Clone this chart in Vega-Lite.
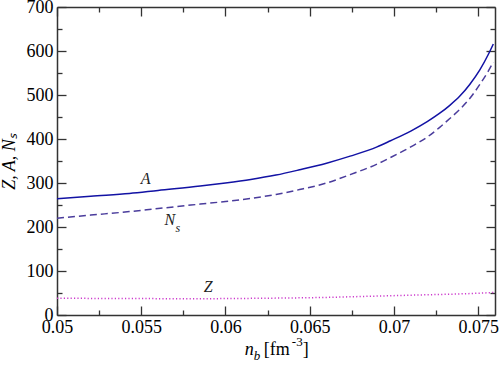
{
  "$schema": "https://vega.github.io/schema/vega-lite/v6.json",
  "autosize": "none",
  "width": 438,
  "height": 308,
  "padding": {"left": 57, "top": 7, "right": 5, "bottom": 50},
  "background": "white",
  "config": {
    "view": {"stroke": null},
    "font": "Liberation Serif",
    "style": {"guide-label": {"font": "Liberation Serif", "fontSize": 18, "fill": "black"}, "guide-title": {"font": "Liberation Serif"}},
    "axis": {
      "grid": false,
      "domainColor": "#333333",
      "domainWidth": 1.5,
      "tickColor": "#333333",
      "tickWidth": 1.3,
      "labelFont": "Liberation Serif",
      "labelFontSize": 18,
      "labelColor": "black",
      "labelFlush": false,
      "labelOverlap": false,
      "titleFont": "Liberation Serif",
      "titleFontWeight": "normal",
      "titleColor": "black"
    }
  },
  "datasets": {
    "curves": [
      {"nb": 0.0500, "v": 264, "s": "A"},
      {"nb": 0.0520, "v": 270, "s": "A"},
      {"nb": 0.0543, "v": 276, "s": "A"},
      {"nb": 0.0560, "v": 283, "s": "A"},
      {"nb": 0.0585, "v": 293, "s": "A"},
      {"nb": 0.0600, "v": 300, "s": "A"},
      {"nb": 0.0615, "v": 308, "s": "A"},
      {"nb": 0.0630, "v": 318, "s": "A"},
      {"nb": 0.0644, "v": 330, "s": "A"},
      {"nb": 0.0660, "v": 345, "s": "A"},
      {"nb": 0.0674, "v": 361, "s": "A"},
      {"nb": 0.0690, "v": 382, "s": "A"},
      {"nb": 0.0698, "v": 396, "s": "A"},
      {"nb": 0.0710, "v": 418, "s": "A"},
      {"nb": 0.0720, "v": 440, "s": "A"},
      {"nb": 0.0727, "v": 458, "s": "A"},
      {"nb": 0.0733, "v": 476, "s": "A"},
      {"nb": 0.0739, "v": 497, "s": "A"},
      {"nb": 0.0745, "v": 524, "s": "A"},
      {"nb": 0.0751, "v": 557, "s": "A"},
      {"nb": 0.0756, "v": 592, "s": "A"},
      {"nb": 0.0759, "v": 616, "s": "A"},
      {"nb": 0.0500, "v": 220, "s": "Ns"},
      {"nb": 0.0520, "v": 227, "s": "Ns"},
      {"nb": 0.0543, "v": 235, "s": "Ns"},
      {"nb": 0.0560, "v": 242, "s": "Ns"},
      {"nb": 0.0585, "v": 252, "s": "Ns"},
      {"nb": 0.0600, "v": 258, "s": "Ns"},
      {"nb": 0.0615, "v": 265, "s": "Ns"},
      {"nb": 0.0630, "v": 274, "s": "Ns"},
      {"nb": 0.0644, "v": 285, "s": "Ns"},
      {"nb": 0.0660, "v": 300, "s": "Ns"},
      {"nb": 0.0674, "v": 319, "s": "Ns"},
      {"nb": 0.0690, "v": 343, "s": "Ns"},
      {"nb": 0.0698, "v": 358, "s": "Ns"},
      {"nb": 0.0710, "v": 382, "s": "Ns"},
      {"nb": 0.0720, "v": 405, "s": "Ns"},
      {"nb": 0.0727, "v": 426, "s": "Ns"},
      {"nb": 0.0733, "v": 446, "s": "Ns"},
      {"nb": 0.0739, "v": 467, "s": "Ns"},
      {"nb": 0.0745, "v": 492, "s": "Ns"},
      {"nb": 0.0751, "v": 524, "s": "Ns"},
      {"nb": 0.0756, "v": 554, "s": "Ns"},
      {"nb": 0.0759, "v": 575, "s": "Ns"},
      {"nb": 0.0500, "v": 38, "s": "Z"},
      {"nb": 0.0540, "v": 37.5, "s": "Z"},
      {"nb": 0.0580, "v": 37, "s": "Z"},
      {"nb": 0.0620, "v": 38, "s": "Z"},
      {"nb": 0.0660, "v": 40, "s": "Z"},
      {"nb": 0.0680, "v": 42, "s": "Z"},
      {"nb": 0.0700, "v": 44, "s": "Z"},
      {"nb": 0.0720, "v": 46, "s": "Z"},
      {"nb": 0.0740, "v": 48, "s": "Z"},
      {"nb": 0.0759, "v": 51, "s": "Z"}
    ],
    "labels": [
      {"nb": 0.05526, "v": 310, "t": "A"},
      {"nb": 0.0567, "v": 216, "t": "N"},
      {"nb": 0.05898, "v": 63, "t": "Z"}
    ],
    "one": [{"k": 1}]
  },
  "resolve": {"axis": {"x": "independent", "y": "independent"}},
  "layer": [
    {
      "data": {"name": "curves"},
      "transform": [{"filter": "datum.s === 'A'"}],
      "mark": {"type": "line", "color": "#1212a4", "strokeWidth": 1.5, "interpolate": "monotone"},
      "encoding": {
        "x": {"field": "nb", "type": "quantitative",
          "scale": {"domain": [0.05, 0.076], "nice": false, "zero": false},
          "axis": {"orient": "bottom", "values": [0.05, 0.055, 0.06, 0.065, 0.07, 0.075], "format": "~g", "tickSize": -9, "labelPadding": 12, "labelFont": "Liberation Serif", "labelFontSize": 18, "title": null}},
        "y": {"field": "v", "type": "quantitative",
          "scale": {"domain": [0, 700], "nice": false},
          "axis": {"orient": "left", "values": [0, 100, 200, 300, 400, 500, 600, 700], "tickSize": -9, "labelPadding": 13, "labelFont": "Liberation Serif", "labelFontSize": 18, "title": "Z, A, Nₛ", "titleFont": "Liberation Serif", "titleFontSize": 18, "titleFontStyle": "italic", "titlePadding": 8}}
      }
    },
    {
      "data": {"name": "curves"},
      "transform": [{"filter": "datum.s === 'Ns'"}],
      "mark": {"type": "line", "color": "#4a3c9c", "strokeWidth": 1.5, "strokeDash": [7, 4], "interpolate": "monotone"},
      "encoding": {
        "x": {"field": "nb", "type": "quantitative",
          "axis": {"orient": "top", "values": [0.05, 0.055, 0.06, 0.065, 0.07, 0.075], "tickSize": -9, "labels": false, "title": null}},
        "y": {"field": "v", "type": "quantitative",
          "axis": {"orient": "right", "values": [0, 100, 200, 300, 400, 500, 600, 700], "tickSize": -9, "labels": false, "title": null}}
      }
    },
    {
      "data": {"name": "curves"},
      "transform": [{"filter": "datum.s === 'Z'"}],
      "mark": {"type": "line", "color": "#cc3acc", "strokeWidth": 1.5, "strokeDash": [1.2, 2.2], "interpolate": "monotone"},
      "encoding": {
        "x": {"field": "nb", "type": "quantitative",
          "axis": {"orient": "bottom", "values": [0.0525, 0.0575, 0.0625, 0.0675, 0.0725], "tickSize": -5, "labels": false, "domain": false, "title": null}},
        "y": {"field": "v", "type": "quantitative",
          "axis": {"orient": "left", "values": [50, 150, 250, 350, 450, 550, 650], "tickSize": -5, "labels": false, "domain": false, "title": null}}
      }
    },
    {
      "data": {"name": "labels"},
      "mark": {"type": "text", "font": "Liberation Serif", "fontStyle": "italic", "fontSize": 16, "baseline": "middle", "align": "center", "color": "#222222"},
      "encoding": {
        "x": {"field": "nb", "type": "quantitative",
          "axis": {"orient": "top", "values": [0.0525, 0.0575, 0.0625, 0.0675, 0.0725], "tickSize": -5, "labels": false, "domain": false, "title": null}},
        "y": {"field": "v", "type": "quantitative",
          "axis": {"orient": "right", "values": [50, 150, 250, 350, 450, 550, 650], "tickSize": -5, "labels": false, "domain": false, "title": null}},
        "text": {"field": "t"}
      }
    },
    {
      "data": {"name": "one"},
      "mark": {"type": "text", "font": "Liberation Serif", "fontStyle": "italic", "fontSize": 12, "baseline": "middle", "align": "center", "color": "#222222", "dx": 8, "dy": 8},
      "encoding": {
        "x": {"datum": 0.0567, "type": "quantitative", "axis": null},
        "y": {"datum": 216, "type": "quantitative", "axis": null},
        "text": {"value": "s"}
      }
    },
    {
      "data": {"name": "one"},
      "mark": {"type": "text", "font": "Liberation Serif", "fontStyle": "italic", "fontSize": 18, "baseline": "alphabetic", "align": "left", "color": "black", "dx": 0},
      "encoding": {
        "x": {"datum": 0.06115, "type": "quantitative", "axis": null},
        "y": {"datum": -91, "type": "quantitative", "axis": null},
        "text": {"value": "n"}
      }
    },
    {
      "data": {"name": "one"},
      "mark": {"type": "text", "font": "Liberation Serif", "fontStyle": "italic", "fontSize": 13, "baseline": "alphabetic", "align": "left", "color": "black", "dx": 9, "dy": 5},
      "encoding": {
        "x": {"datum": 0.06115, "type": "quantitative", "axis": null},
        "y": {"datum": -91, "type": "quantitative", "axis": null},
        "text": {"value": "b"}
      }
    },
    {
      "data": {"name": "one"},
      "mark": {"type": "text", "font": "Liberation Serif", "fontSize": 18, "baseline": "alphabetic", "align": "left", "color": "black", "dx": 19},
      "encoding": {
        "x": {"datum": 0.06115, "type": "quantitative", "axis": null},
        "y": {"datum": -91, "type": "quantitative", "axis": null},
        "text": {"value": "[fm"}
      }
    },
    {
      "data": {"name": "one"},
      "mark": {"type": "text", "font": "Liberation Serif", "fontSize": 13, "baseline": "alphabetic", "align": "left", "color": "black", "dx": 47, "dy": -9},
      "encoding": {
        "x": {"datum": 0.06115, "type": "quantitative", "axis": null},
        "y": {"datum": -91, "type": "quantitative", "axis": null},
        "text": {"value": "-3"}
      }
    },
    {
      "data": {"name": "one"},
      "mark": {"type": "text", "font": "Liberation Serif", "fontSize": 18, "baseline": "alphabetic", "align": "left", "color": "black", "dx": 58},
      "encoding": {
        "x": {"datum": 0.06115, "type": "quantitative", "axis": null},
        "y": {"datum": -91, "type": "quantitative", "axis": null},
        "text": {"value": "]"}
      }
    }
  ]
}
